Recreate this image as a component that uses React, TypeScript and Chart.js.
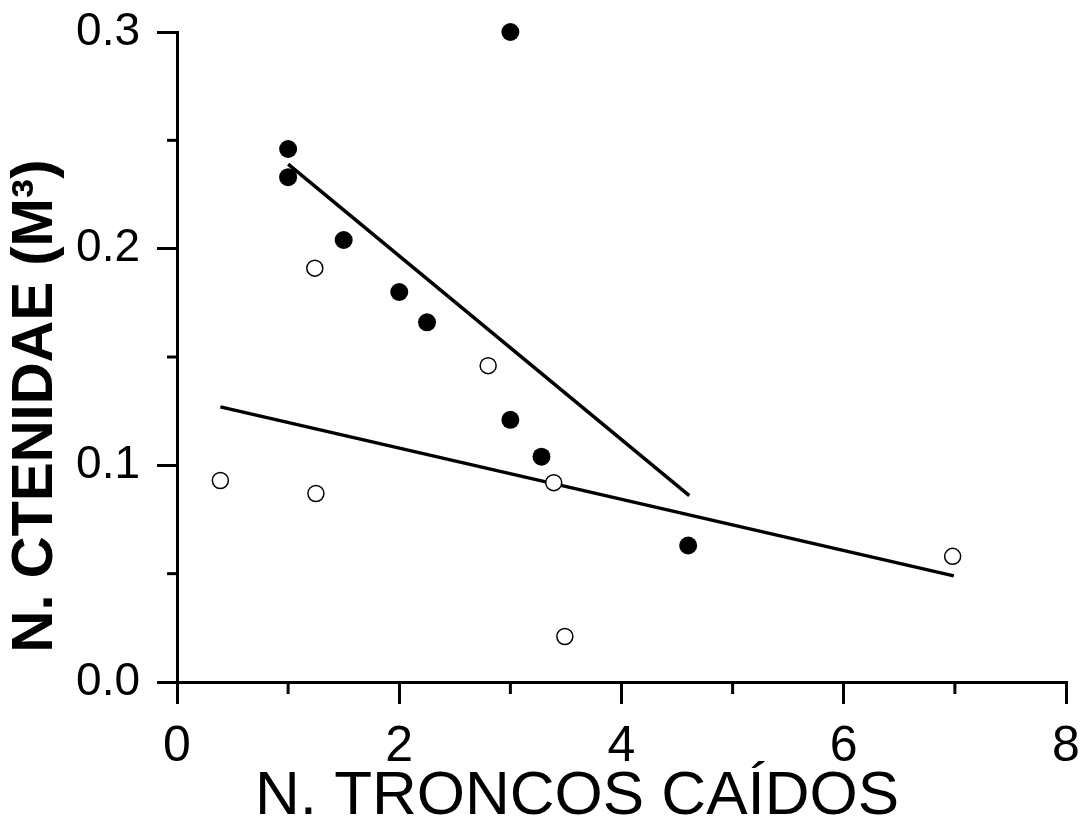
import React, { useEffect, useRef } from 'react';
import { Chart, registerables } from 'chart.js';

Chart.register(...registerables);

// Data
const filledX = [1.0, 1.0, 1.5, 2.0, 2.25, 3.0, 3.0, 3.28, 4.6];
const filledY = [0.246, 0.233, 0.204, 0.18, 0.166, 0.3, 0.121, 0.104, 0.063];
const openX = [0.39, 1.24, 1.25, 2.8, 3.39, 3.49, 6.98];
const openY = [0.093, 0.191, 0.087, 0.146, 0.092, 0.021, 0.058];
const fitFilledX = [1.0, 4.61];
const fitFilledY = [0.239, 0.086];
const fitOpenX = [0.39, 6.99];
const fitOpenY = [0.127, 0.049];

const xMajorTicks = [0, 2, 4, 6, 8];
const xMinorTicks = [1, 3, 5, 7];
const yMajorTicks = [0, 0.1, 0.2, 0.3];
const yMinorTicks = [0.05, 0.15, 0.25];

const xTitle = 'N. TRONCOS CAÍDOS';
const yTitle = 'N. CTENIDAE (M³)';

const FONT = '"Liberation Sans", Arial, Helvetica, sans-serif';

const toPts = (xs: number[], ys: number[]) => xs.map((x, i) => ({ x, y: ys[i] }));

const decorPlugin = {
  id: 'decor',
  afterDraw(chart: any) {
    const ctx = chart.ctx as CanvasRenderingContext2D;
    const xs = chart.scales.x;
    const ys = chart.scales.y;
    ctx.save();
    ctx.strokeStyle = '#000';
    ctx.lineWidth = 3;
    ctx.lineCap = 'butt';
    xMinorTicks.forEach((v) => {
      const px = xs.getPixelForValue(v);
      ctx.beginPath();
      ctx.moveTo(px, xs.top);
      ctx.lineTo(px, xs.top + 12);
      ctx.stroke();
    });
    yMinorTicks.forEach((v) => {
      const py = ys.getPixelForValue(v);
      ctx.beginPath();
      ctx.moveTo(ys.right, py);
      ctx.lineTo(ys.right - 10, py);
      ctx.stroke();
    });
    ctx.fillStyle = '#000';
    ctx.textAlign = 'center';
    ctx.textBaseline = 'middle';
    ctx.font = `62px ${FONT}`;
    ctx.fillText(xTitle, 577, 797);
    ctx.translate(36, 406);
    ctx.rotate(-Math.PI / 2);
    ctx.font = `bold 58px ${FONT}`;
    ctx.fillText(yTitle, 0, 0);
    ctx.restore();
  },
};

const zeroPad = (s: any) => {
  s.paddingTop = 0;
  s.paddingBottom = 0;
  s.paddingLeft = 0;
  s.paddingRight = 0;
};

export default function App() {
  const ref = useRef<HTMLCanvasElement | null>(null);

  useEffect(() => {
    if (!ref.current) return;
    const chart = new Chart(ref.current, {
      type: 'scatter',
      data: {
        datasets: [
          {
            label: 'filled',
            data: toPts(filledX, filledY),
            pointRadius: 9,
            pointBackgroundColor: '#000',
            pointBorderColor: '#000',
            pointBorderWidth: 0,
            clip: false,
          } as any,
          {
            label: 'open',
            data: toPts(openX, openY),
            pointRadius: 8,
            pointBackgroundColor: '#fff',
            pointBorderColor: '#000',
            pointBorderWidth: 1.5,
            clip: false,
          } as any,
          {
            label: 'fit filled',
            data: toPts(fitFilledX, fitFilledY),
            showLine: true,
            pointRadius: 0,
            borderColor: '#000',
            borderWidth: 3.5,
            clip: false,
          } as any,
          {
            label: 'fit open',
            data: toPts(fitOpenX, fitOpenY),
            showLine: true,
            pointRadius: 0,
            borderColor: '#000',
            borderWidth: 3.5,
            clip: false,
          } as any,
        ],
      },
      options: {
        responsive: false,
        animation: false,
        layout: { padding: { top: 32, right: 16, left: 0, bottom: 0 } },
        plugins: {
          legend: { display: false },
          tooltip: { enabled: false },
        },
        scales: {
          x: {
            type: 'linear',
            min: 0,
            max: 8,
            afterBuildTicks: (s: any) => {
              s.ticks = xMajorTicks.map((v) => ({ value: v }));
            },
            afterFit: (s: any) => {
              s.height = 146;
              zeroPad(s);
            },
            ticks: {
              color: '#000',
              font: { family: FONT, size: 50 },
              padding: 13,
              maxRotation: 0,
              callback: (v: any) => String(v),
            },
            grid: {
              drawOnChartArea: false,
              drawTicks: true,
              tickLength: 22,
              lineWidth: 3,
              color: '#000',
            },
            border: { display: true, width: 3, color: '#000' },
          },
          y: {
            type: 'linear',
            min: 0,
            max: 0.3,
            afterBuildTicks: (s: any) => {
              s.ticks = yMajorTicks.map((v) => ({ value: v }));
            },
            afterFit: (s: any) => {
              s.width = 177;
              zeroPad(s);
            },
            ticks: {
              color: '#000',
              font: { family: FONT, size: 46 },
              padding: 17,
              callback: (v: any) => Number(v).toFixed(1),
            },
            grid: {
              drawOnChartArea: false,
              drawTicks: true,
              tickLength: 20,
              lineWidth: 3,
              color: '#000',
            },
            border: { display: true, width: 3, color: '#000' },
          },
        },
      },
      plugins: [decorPlugin],
    });
    return () => chart.destroy();
  }, []);

  return (
    <div style={{ position: 'fixed', left: 0, top: 0, width: 1082, height: 828, background: '#fff' }}>
      <canvas ref={ref} width={1082} height={828} style={{ display: 'block' }} />
    </div>
  );
}
